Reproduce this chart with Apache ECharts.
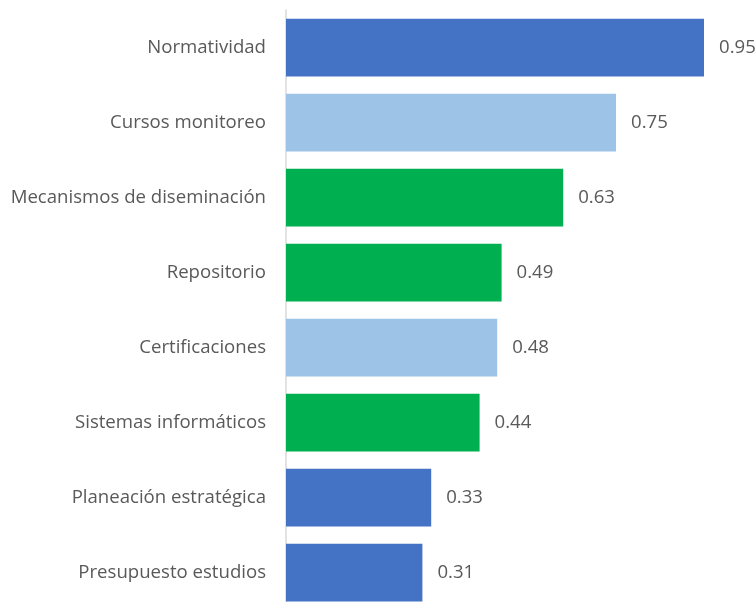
<!DOCTYPE html>
<html><head><meta charset="utf-8">
<script src="https://cdn.jsdelivr.net/npm/echarts@6/dist/echarts.min.js"></script>
<style>html,body{margin:0;padding:0;background:#fff;overflow:hidden;width:756px;height:602px}#c{width:756px;height:610px}</style>
</head><body><div id="c"></div>
<script>
const categories = ["Normatividad","Cursos monitoreo","Mecanismos de diseminación","Repositorio","Certificaciones","Sistemas informáticos","Planeación estratégica","Presupuesto estudios"];
const values = [0.95,0.75,0.63,0.49,0.48,0.44,0.33,0.31];
const groups = ["dark","light","green","green","light","green","dark","dark"];
const palette = {dark:"#4472C4", light:"#9DC3E6", green:"#00B050"};

const chart = echarts.init(document.getElementById('c'));
chart.setOption({
  animation:false,
  grid:{left:286, width:440, top:10, bottom:0, containLabel:false},
  xAxis:{type:'value', min:0, max:1, show:false},
  yAxis:{type:'category', inverse:true, data:categories,
    axisLine:{show:true, lineStyle:{color:'#D9D9D9', width:1.5}},
    axisTick:{show:false},
    axisLabel:{color:'#595959', fontFamily:'Open Sans', fontSize:18.6, margin:20}},
  series:[{type:'bar', barCategoryGap:'23%',
    data: values.map((v,i)=>({value:v, itemStyle:{color:palette[groups[i]]}})),
    label:{show:true, position:'right', distance:15, color:'#595959', fontFamily:'Open Sans', fontSize:18.6,
      formatter:p=>p.value.toFixed(2)}}]
});
</script></body></html>
